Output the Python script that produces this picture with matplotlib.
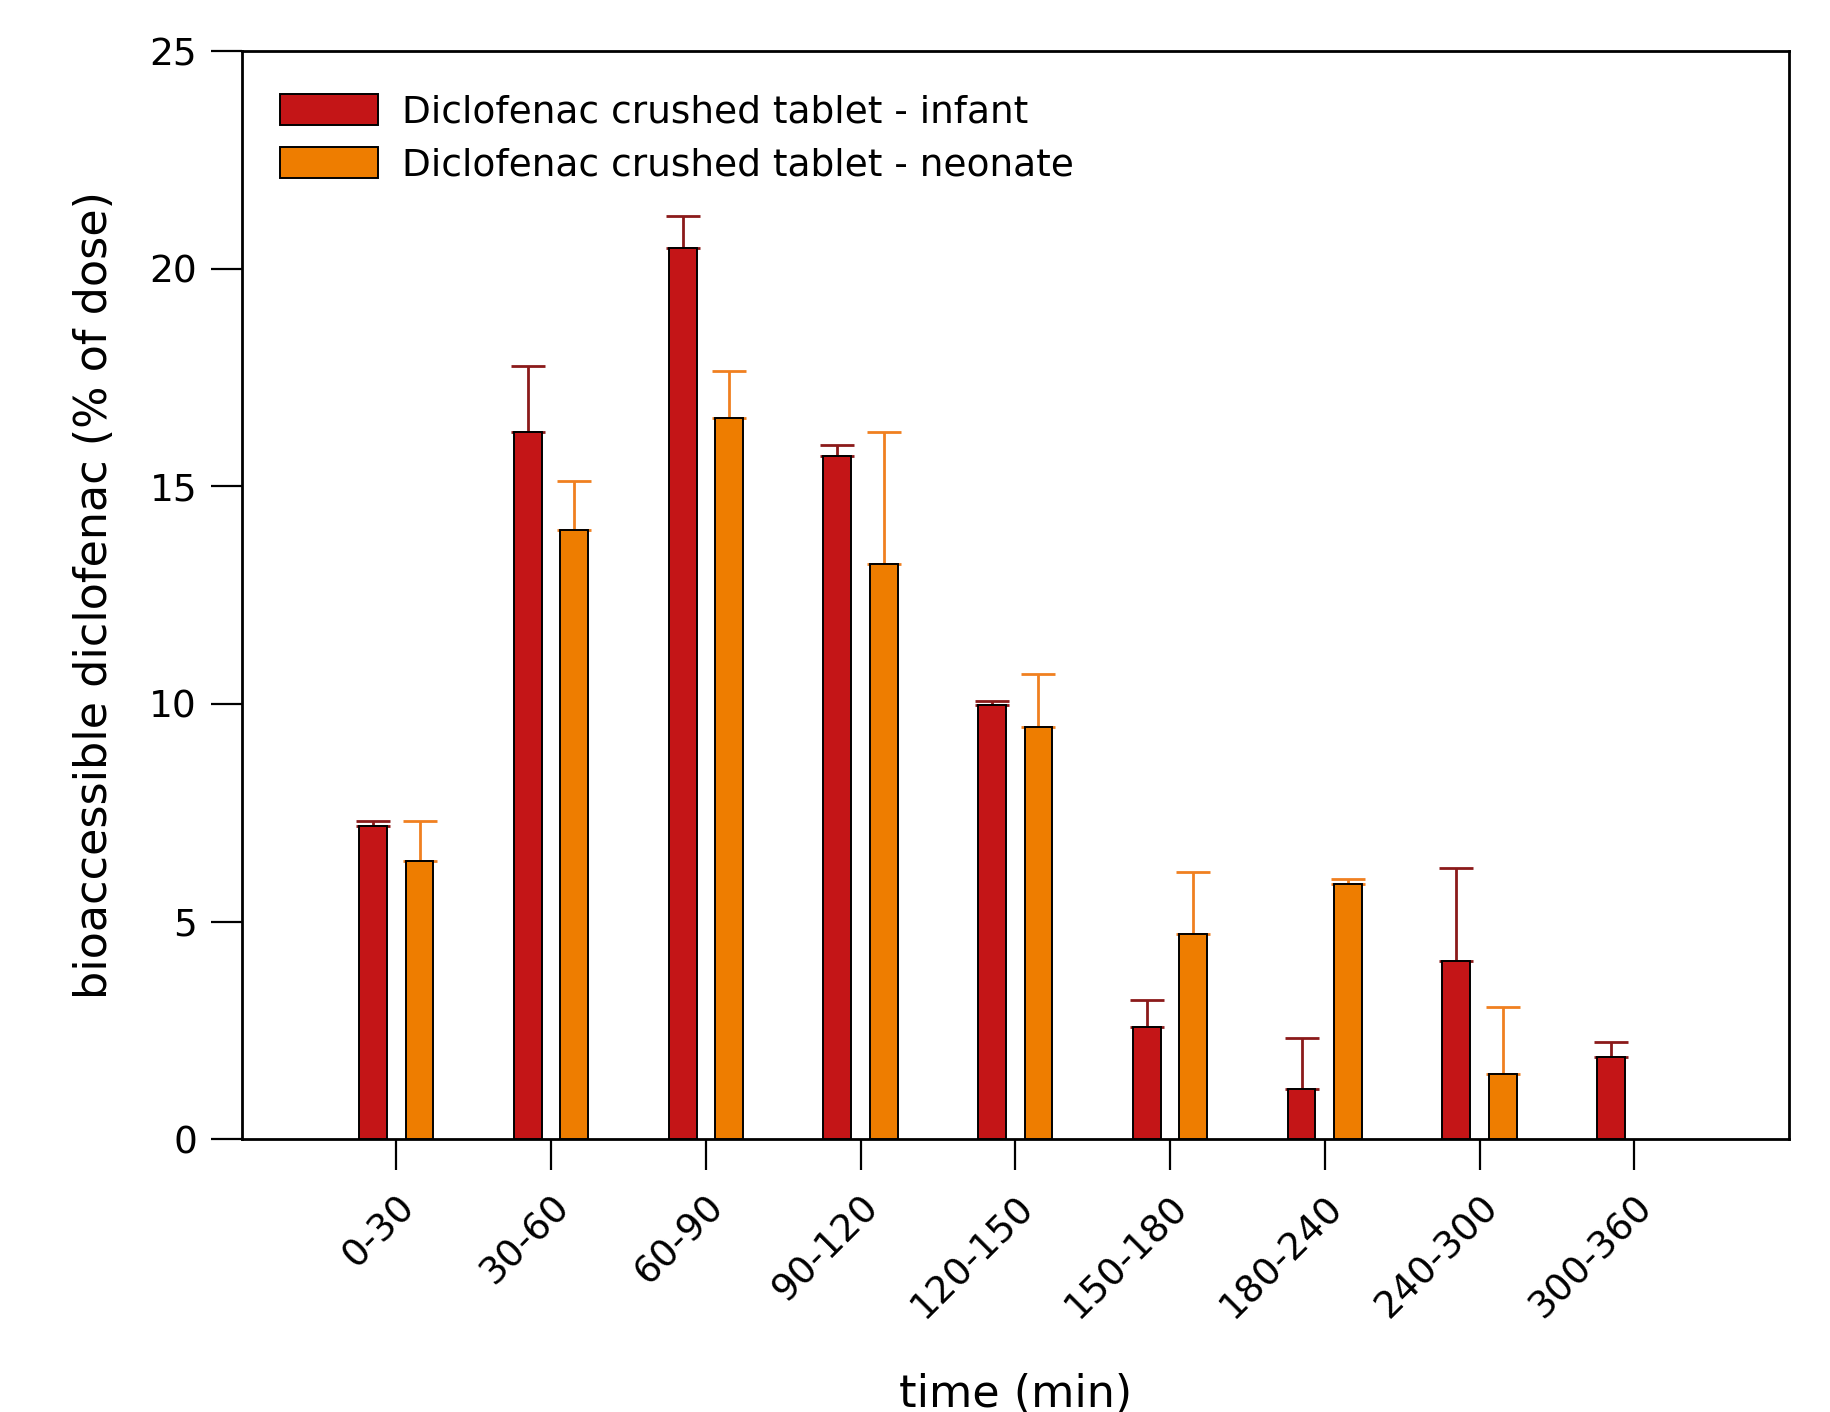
import matplotlib
matplotlib.use("Agg")
import matplotlib.pyplot as plt
import numpy as np

# Data
categories = ["0-30", "30-60", "60-90", "90-120", "120-150",
              "150-180", "180-240", "240-300", "300-360"]
infant = [7.19, 16.26, 20.49, 15.69, 9.98, 2.58, 1.15, 4.10, 1.88]
infant_err = [0.13, 1.50, 0.73, 0.27, 0.08, 0.61, 1.18, 2.12, 0.35]
neonate = [6.38, 14.00, 16.58, 13.22, 9.47, 4.72, 5.87, 1.50, np.nan]
neonate_err = [0.94, 1.13, 1.07, 3.04, 1.23, 1.42, 0.11, 1.53, np.nan]

plt.rcParams['font.family'] = ['DejaVu Sans']

fig = plt.figure(figsize=(18.3, 14.12), dpi=100)
ax = fig.add_axes([0.132, 0.1933, 0.8456, 0.7703])

x = np.arange(len(categories))
w = 0.18
off = 0.15

ax.bar(x - off, infant, width=w, color='#C41517', edgecolor='black',
       linewidth=1.4, label='Diclofenac crushed tablet - infant', zorder=3)
ax.bar(x + off, neonate, width=w, color='#EE7D00', edgecolor='black',
       linewidth=1.4, label='Diclofenac crushed tablet - neonate', zorder=3)

# upper error bars only
ax.errorbar(x - off, infant, yerr=[np.zeros(len(infant)), infant_err],
            fmt='none', ecolor='#8B1A1A', elinewidth=2, capsize=12,
            capthick=2, zorder=2)
ax.errorbar(x + off, neonate, yerr=[np.zeros(len(neonate)), neonate_err],
            fmt='none', ecolor='#F08020', elinewidth=2, capsize=12,
            capthick=2, zorder=2)

ax.set_xlim(-1, 9)
ax.set_ylim(0, 25)
ax.set_yticks([0, 5, 10, 15, 20, 25])
ax.set_xticks(x)
ax.set_xticklabels(categories, rotation=45, ha='right', rotation_mode='anchor')

ax.tick_params(axis='both', labelsize=27, length=22, width=1.6, direction='out')
ax.tick_params(axis='x', pad=14)
ax.tick_params(axis='y', pad=10)
for s in ax.spines.values():
    s.set_linewidth(2)

ax.set_xlabel('time (min)', fontsize=32, labelpad=34)
ax.set_ylabel('bioaccessible diclofenac (% of dose)', fontsize=32, labelpad=24)

ax.legend(loc='upper left', frameon=False, fontsize=27, handlelength=2.6,
          handleheight=0.9, handletextpad=0.65, labelspacing=0.45,
          borderpad=0, borderaxespad=0, bbox_to_anchor=(0.025, 0.961))

fig.savefig('out.png', dpi=100)
